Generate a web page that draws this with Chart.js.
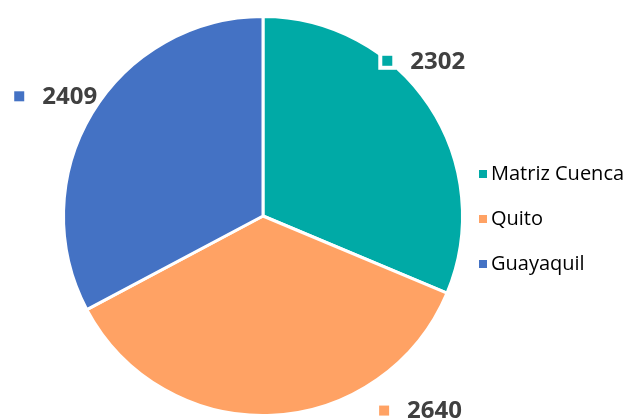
<!DOCTYPE html>
<html>
<head>
<meta charset="utf-8">
<script src="https://cdn.jsdelivr.net/npm/chart.js@4.4.1/dist/chart.umd.min.js"></script>
<style>
  html, body { margin: 0; padding: 0; background: #fff; }
  #wrap { width: 630px; height: 419px; }
</style>
</head>
<body>
<div id="wrap"><canvas id="pie" width="630" height="419"></canvas></div>
<script>
// datos
const sedes = ['Matriz Cuenca', 'Quito', 'Guayaquil'];
const valores = [2302, 2640, 2409];
const colores = ['#00AAA6', '#FFA264', '#4472C4'];

// posición de etiquetas (ángulo desde arriba en grados, radio relativo)
const etiquetaAngulo = [46, 141, 300];
const etiquetaRadio = [1.12, 1.255, 1.2];

const etiquetas = {
    id: 'etiquetas',
    afterDraw(chart) {
        const ctx = chart.ctx;
        const arcs = chart.getDatasetMeta(0).data;
        ctx.save();
        ctx.font = 'bold 24px "Open Sans"';
        ctx.textBaseline = 'middle';
        arcs.forEach((arc, i) => {
            const a = etiquetaAngulo[i] * Math.PI / 180;
            const r = arc.outerRadius * etiquetaRadio[i];
            const cx = arc.x + Math.sin(a) * r;
            const cy = arc.y - Math.cos(a) * r;
            const txt = String(valores[i]);
            const tw = ctx.measureText(txt).width;
            const total = 10 + 18 + tw;
            const x0 = cx - total / 2;
            // fondo blanco detrás del marcador
            ctx.fillStyle = '#ffffff';
            ctx.fillRect(x0 - 4, cy - 9, 18, 18);
            ctx.fillStyle = colores[i];
            ctx.fillRect(x0, cy - 5, 10, 10);
            ctx.fillStyle = '#404040';
            ctx.textAlign = 'left';
            ctx.fillText(txt, x0 + 28, cy + 1);
        });
        ctx.restore();
    }
};

const leyenda = {
    id: 'leyenda',
    afterDraw(chart) {
        const ctx = chart.ctx;
        const area = chart.chartArea;
        ctx.save();
        ctx.font = '20px "Open Sans"';
        ctx.textBaseline = 'middle';
        ctx.textAlign = 'left';
        const x = area.right + 15;
        const y0 = 174;
        sedes.forEach((s, i) => {
            const y = y0 + i * 45;
            ctx.fillStyle = colores[i];
            ctx.fillRect(x, y - 4, 8, 8);
            ctx.fillStyle = '#000';
            ctx.fillText(s, x + 12, y);
        });
        ctx.restore();
    }
};

new Chart(document.getElementById('pie').getContext('2d'), {
    type: 'pie',
    data: {
        labels: sedes,
        datasets: [{
            data: valores,
            backgroundColor: colores,
            borderColor: '#ffffff',
            borderWidth: 3
        }]
    },
    options: {
        responsive: false,
        animation: false,
        layout: { padding: { left: 62, right: 166, top: 15, bottom: 2 } },
        plugins: {
            legend: { display: false },
            tooltip: { enabled: false }
        }
    },
    plugins: [etiquetas, leyenda]
});
</script>
</body>
</html>
